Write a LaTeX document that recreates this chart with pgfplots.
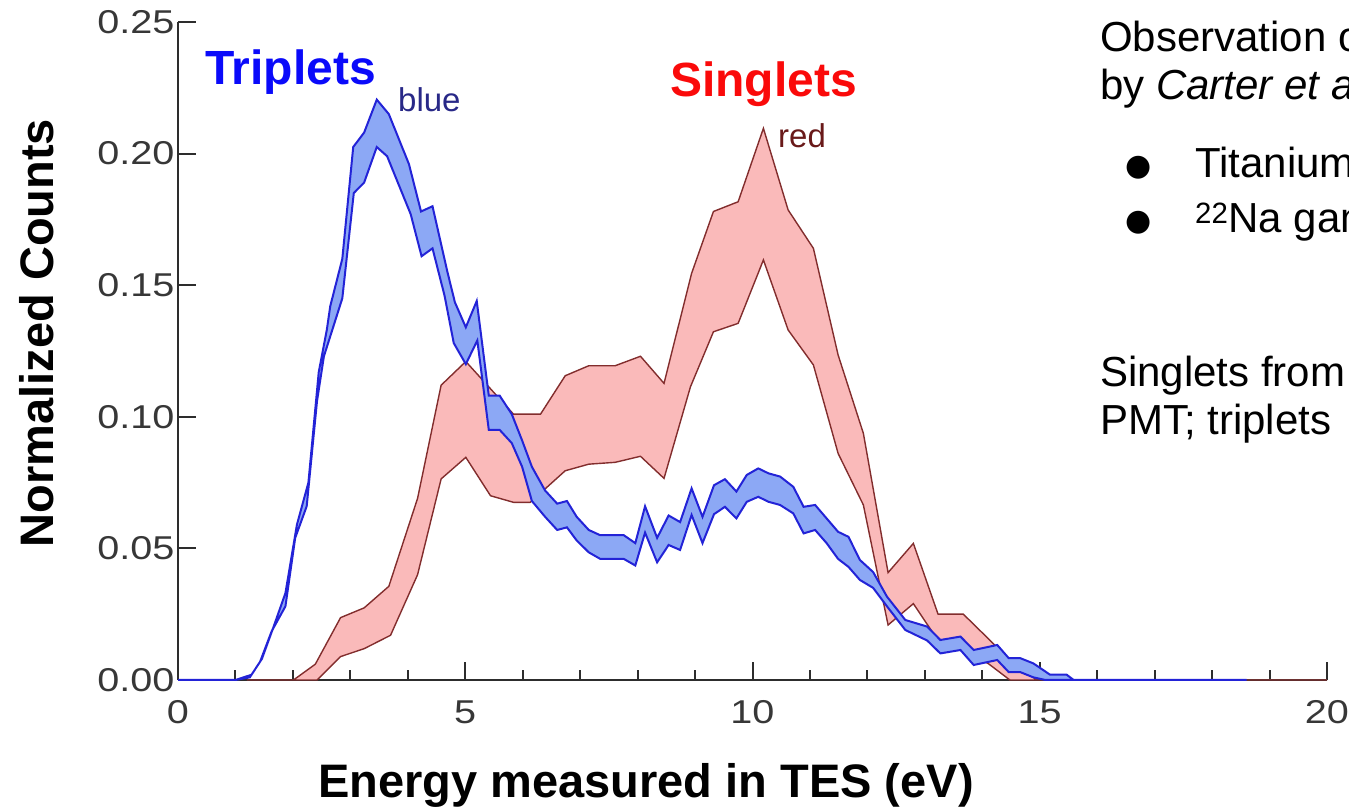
\documentclass[border=0pt]{standalone}
\usepackage{fontspec}
\setmainfont{Liberation Sans}
\newfontfamily\dejavu{DejaVu Sans}
\newfontfamily\tickfont[FakeStretch=1.2]{Liberation Sans}
\usepackage{pgfplots}
\pgfplotsset{compat=1.18}
\definecolor{bfill}{RGB}{140,168,245}
\definecolor{bedge}{RGB}{35,35,215}
\definecolor{rfill}{RGB}{250,186,186}
\definecolor{redge}{RGB}{130,45,45}
\definecolor{tripblue}{RGB}{10,10,250}
\definecolor{singred}{RGB}{250,10,10}
\definecolor{bluetxt}{RGB}{40,40,135}
\definecolor{redtxt}{RGB}{105,25,25}
\definecolor{axisgray}{RGB}{45,45,45}
\definecolor{labelgray}{RGB}{55,55,55}
\begin{document}
\begin{tikzpicture}
\begin{axis}[
  at={(178pt,131pt)}, anchor=south west,
  scale only axis, width=1149pt, height=658pt,
  xmin=0, xmax=20, ymin=0, ymax=0.25,
  axis x line=bottom, axis y line=left,
  axis line style={-, line width=2.2pt, color=axisgray},
  every tick/.style={line width=2pt, color=axisgray},
  tick align=inside,
  xtick={0,5,10,15,20}, minor x tick num=4,
  ytick={0,0.05,0.1,0.15,0.2,0.25},
  major tick length=18pt, minor tick length=10pt,
  scaled y ticks=false,
  yticklabel style={/pgf/number format/.cd, fixed, fixed zerofill, precision=2},
  ticklabel style={font=\tickfont\fontsize{33}{33}\selectfont, text=labelgray},
  /pgf/number format/assume math mode=true,
  xticklabel style={yshift=-17pt},
  clip=false,
]
% Singlets band (red): upper curve left to right, then lower curve right to left
\addplot[draw=redge, fill=rfill, line width=1.4pt] coordinates {
(1.2,0)(2.01,0)(2.39,0.006)(2.83,0.0237)(3.24,0.0274)(3.67,0.0356)(4.17,0.069)(4.58,0.112)(5.01,0.121)
(5.84,0.101)(6.31,0.101)(6.74,0.1156)(7.15,0.1194)(7.61,0.1194)(8.05,0.123)(8.46,0.1127)(8.94,0.1545)
(9.32,0.178)(9.75,0.1817)(10.19,0.2096)(10.62,0.1786)(11.06,0.164)(11.49,0.1235)(11.93,0.0937)
(12.36,0.0408)(12.80,0.0519)(13.23,0.025)(13.67,0.025)(14.10,0.0158)(14.54,0.0063)(14.95,0)(20,0)
(14.48,0)(14.10,0.0063)(13.67,0.011)(13.23,0.015)(12.80,0.029)(12.36,0.0209)(11.93,0.0665)(11.49,0.0861)
(11.06,0.1197)(10.62,0.133)(10.19,0.1596)(9.75,0.1355)(9.32,0.1323)(8.92,0.1114)(8.46,0.0766)(8.05,0.085)
(7.61,0.0827)(7.15,0.082)(6.74,0.0795)(6.13,0.0675)(5.84,0.0675)(5.44,0.070)(5.01,0.0846)(4.58,0.0764)
(4.17,0.040)(3.70,0.017)(3.24,0.0119)(2.83,0.0089)(2.42,0)(1.2,0)
};
% Triplets band (blue)
\addplot[draw=bedge, fill=bfill, line width=2pt] coordinates {
(0,0)(1.0,0)(1.28,0.002)(1.46,0.008)(1.66,0.02)(1.87,0.033)(2.07,0.059)(2.27,0.075)(2.45,0.117)
(2.59,0.133)(2.65,0.142)(2.86,0.160)(3.05,0.2025)(3.24,0.208)(3.46,0.2205)(3.67,0.215)(4.02,0.196)
(4.23,0.178)(4.43,0.180)(4.69,0.155)(4.82,0.1435)(5.01,0.134)(5.2,0.144)(5.41,0.108)(5.60,0.108)
(5.81,0.101)(5.99,0.091)(6.16,0.081)(6.39,0.072)(6.60,0.067)(6.77,0.068)(6.94,0.062)(7.15,0.057)
(7.35,0.055)(7.76,0.055)(7.96,0.052)(8.13,0.066)(8.34,0.054)(8.54,0.0625)(8.74,0.060)(8.94,0.0728)
(9.13,0.062)(9.33,0.074)(9.52,0.0763)(9.72,0.0716)(9.90,0.0779)(10.10,0.0804)(10.28,0.0785)(10.48,0.0773)
(10.71,0.0734)(10.89,0.0658)(11.09,0.0665)(11.29,0.0614)(11.49,0.0563)(11.67,0.0544)(11.87,0.0456)
(12.10,0.041)(12.34,0.0317)(12.66,0.0228)(13.04,0.0203)(13.27,0.0152)(13.62,0.0165)(13.85,0.0114)
(14.26,0.0133)(14.46,0.0083)(14.66,0.0083)(14.89,0.0063)(15.18,0.002)(15.47,0.002)(15.59,0)(18.6,0)
(15.1,0)(14.89,0.001)(14.66,0.003)(14.46,0.003)(14.26,0.0076)(13.85,0.0057)(13.62,0.0114)(13.27,0.0101)
(13.04,0.015)(12.66,0.019)(12.34,0.028)(12.10,0.035)(11.87,0.038)(11.67,0.043)(11.49,0.046)(11.29,0.052)
(11.09,0.057)(10.89,0.0557)(10.71,0.0633)(10.48,0.0665)(10.28,0.0677)(10.10,0.0696)(9.90,0.0677)
(9.72,0.0614)(9.52,0.0658)(9.33,0.063)(9.13,0.052)(8.94,0.0627)(8.74,0.0494)(8.54,0.0513)(8.34,0.0447)
(8.13,0.056)(7.96,0.0435)(7.76,0.046)(7.35,0.046)(7.15,0.0485)(6.94,0.053)(6.77,0.058)(6.60,0.057)
(6.39,0.062)(6.16,0.068)(5.99,0.081)(5.81,0.090)(5.60,0.095)(5.41,0.095)(5.21,0.129)(5.01,0.120)
(4.80,0.128)(4.64,0.146)(4.43,0.164)(4.24,0.161)(4.05,0.177)(3.64,0.199)(3.46,0.2025)(3.24,0.189)
(3.06,0.185)(2.86,0.145)(2.54,0.123)(2.42,0.106)(2.24,0.066)(2.04,0.054)(1.87,0.028)(1.63,0.0185)
(1.43,0.007)(1.25,0.001)(1.0,0)(0,0)
};
\end{axis}
% annotations
\node[anchor=base west, inner sep=0pt, text=tripblue, font=\fontsize{48}{48}\selectfont\bfseries] at (205pt,726pt) {Triplets};
\node[anchor=base west, inner sep=0pt, text=bluetxt, font=\fontsize{33}{33}\selectfont] at (398pt,699pt) {blue};
\node[anchor=base west, inner sep=0pt, text=singred, font=\fontsize{48}{48}\selectfont\bfseries] at (670pt,714pt) {Singlets};
\node[anchor=base west, inner sep=0pt, text=redtxt, font=\fontsize{33}{33}\selectfont] at (778pt,663pt) {red};
% axis titles
\node[anchor=base, inner sep=0pt, font=\fontsize{47}{47}\selectfont\bfseries] at (646pt,13pt) {Energy measured in TES (eV)};
\node[anchor=base, inner sep=0pt, rotate=90, font=\fontsize{47}{47}\selectfont\bfseries] at (53pt,478pt) {Normalized Counts};
% side text (cut by the page edge, as in the reference)
\begin{scope}[every node/.style={anchor=base west, inner sep=0pt, font=\fontsize{42}{42}\selectfont}]
\node at (1100pt,759pt) {Observation o};
\node at (1100pt,711pt) {by \textit{Carter et a}};
\node at (1125pt,635pt) {{\dejavu\fontsize{30}{30}\selectfont ●}};
\node at (1195pt,633pt) {Titanium};
\node at (1125pt,580pt) {{\dejavu\fontsize{30}{30}\selectfont ●}};
\node at (1195pt,578pt) {\textsuperscript{22}Na gam};
\node at (1100pt,424pt) {Singlets from};
\node at (1100pt,376pt) {PMT; triplets};
\end{scope}
\pgfresetboundingbox
\path[use as bounding box] (0pt,0pt) rectangle (1349pt,811pt);
\end{tikzpicture}
\end{document}
